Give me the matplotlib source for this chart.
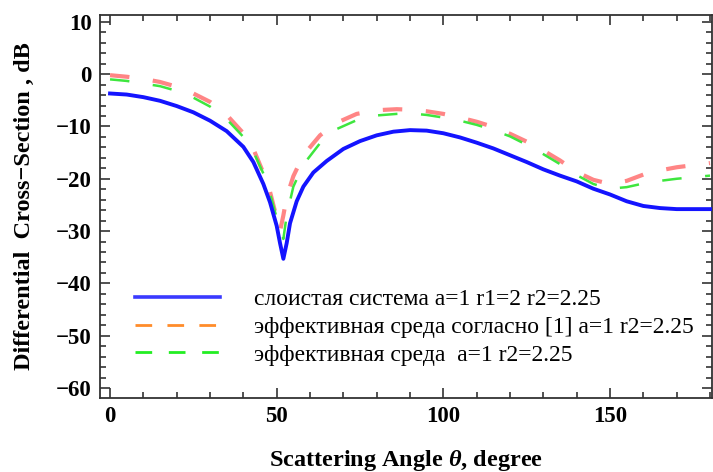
"""Differential cross-section vs scattering angle, three models."""
import matplotlib
matplotlib.use("Agg")
import matplotlib.pyplot as plt
from matplotlib.lines import Line2D
from matplotlib.ticker import MultipleLocator

plt.rcParams["font.family"] = ["Liberation Serif", "DejaVu Serif"]
plt.rcParams["lines.scale_dashes"] = False
plt.rcParams["axes.unicode_minus"] = True
plt.rcParams["mathtext.fontset"] = "custom"
plt.rcParams["mathtext.it"] = "Liberation Serif:italic:bold"

# Data
angle_layered = [0, 5, 10, 15, 20, 25, 30, 35, 40, 43, 46, 48, 50, 51, 52, 53, 54,
                 56, 58, 61, 65, 70, 75, 80, 85, 90, 95, 100, 105, 110, 115, 120,
                 125, 130, 135, 140, 145, 150, 155, 160, 165, 170, 175, 180]
db_layered = [-3.7, -3.9, -4.4, -5.1, -6.1, -7.3, -8.9, -10.9, -13.9, -16.8, -21.0,
              -24.5, -29.0, -32.3, -35.3, -32.3, -28.5, -24.3, -21.5, -18.8, -16.6,
              -14.3, -12.8, -11.7, -11.0, -10.7, -10.8, -11.3, -12.1, -13.1, -14.2,
              -15.5, -16.8, -18.2, -19.4, -20.5, -21.9, -23.0, -24.3, -25.2, -25.6,
              -25.8, -25.8, -25.8]

angle_eff_ref = [0, 5, 10, 15, 20, 25, 30, 35, 40, 43, 46, 48, 50, 51, 52, 53, 55,
                 58, 63, 68, 74, 80, 86, 90, 95, 100, 105, 110, 115, 120, 125, 130,
                 135, 140, 145, 150, 155, 160, 165, 170, 175, 180]
db_eff_ref = [-0.2, -0.5, -0.9, -1.5, -2.4, -3.7, -5.3, -7.8, -11.3, -14.3, -18.9,
              -22.5, -27.5, -30.0, -27.0, -23.5, -19.5, -15.5, -11.7, -9.3, -7.6,
              -6.9, -6.7, -6.8, -7.1, -7.6, -8.3, -9.1, -10.1, -11.4, -12.9, -14.6,
              -16.5, -18.7, -20.2, -21.0, -20.4, -19.2, -18.4, -17.8, -17.4, -17.0]

angle_eff = [0, 5, 10, 15, 20, 25, 30, 35, 40, 43, 46, 48, 50, 51, 52, 53, 55, 58,
             63, 68, 74, 80, 86, 90, 95, 100, 105, 110, 115, 120, 125, 130, 135,
             140, 145, 150, 155, 160, 165, 170, 175, 180]
db_eff = [-1.0, -1.3, -1.8, -2.3, -3.2, -4.5, -6.2, -8.6, -12.0, -14.8, -19.0,
          -22.8, -27.5, -30.0, -31.5, -27.0, -21.5, -17.3, -13.2, -10.5, -8.8,
          -7.9, -7.6, -7.5, -7.8, -8.3, -8.9, -9.7, -10.7, -11.9, -13.5, -15.3,
          -17.2, -19.3, -21.0, -21.9, -21.6, -20.9, -20.4, -20.0, -19.7, -19.4]

labels = [
    "слоистая система a=1 r1=2 r2=2.25",
    "эффективная среда согласно [1] a=1 r2=2.25",
    "эффективная среда  a=1 r2=2.25",
]

fig = plt.figure(figsize=(7.13, 4.72), dpi=100)
ax = fig.add_axes([0.1403, 0.1568, 0.8583, 0.8114])

ax.plot(angle_eff_ref, db_eff_ref, color="#ff8585", lw=3.0, dashes=(14, 17),
        zorder=2)
ax.plot(angle_eff, db_eff, color="#3ee63e", lw=1.8, dashes=(14, 17), zorder=3)
ax.plot(angle_layered, db_layered, color="#1414ff", lw=2.8, zorder=4)

ax.set_xlim(-3, 180.6)
ax.set_ylim(-61.9, 11.3)
ax.xaxis.set_major_locator(MultipleLocator(50))
ax.xaxis.set_minor_locator(MultipleLocator(10))
ax.yaxis.set_major_locator(MultipleLocator(10))
ax.yaxis.set_minor_locator(MultipleLocator(2))

for s in ax.spines.values():
    s.set_color("#333333")
    s.set_linewidth(1.3)
ax.tick_params(which="both", direction="in", top=True, right=True,
               color="#333333", width=1.2)
ax.tick_params(which="major", length=7, labelsize=16.5, pad=6)
ax.tick_params(which="minor", length=4)
for lab in ax.get_xticklabels() + ax.get_yticklabels():
    lab.set_fontweight("bold")

ax.set_xlabel("Scattering Angle $\\theta$, degree", fontsize=17.5,
              fontweight="bold", labelpad=15)
ax.set_ylabel("Differential  Cross\u2212Section , dB", fontsize=17.5,
              fontweight="bold", labelpad=15)

handles = [
    Line2D([], [], color="#3a3aff", lw=2.6),
    Line2D([], [], color="#ff8c2a", lw=2.0, dashes=(12, 11)),
    Line2D([], [], color="#22ee22", lw=2.0, dashes=(12, 12)),
]
ax.legend(handles, labels, loc="upper left", bbox_to_anchor=(0.057, 0.285),
          frameon=False, fontsize=17, handlelength=3.6, handletextpad=1.45,
          labelspacing=0.26, borderpad=0, borderaxespad=0)

fig.savefig("out.png", dpi=100)
